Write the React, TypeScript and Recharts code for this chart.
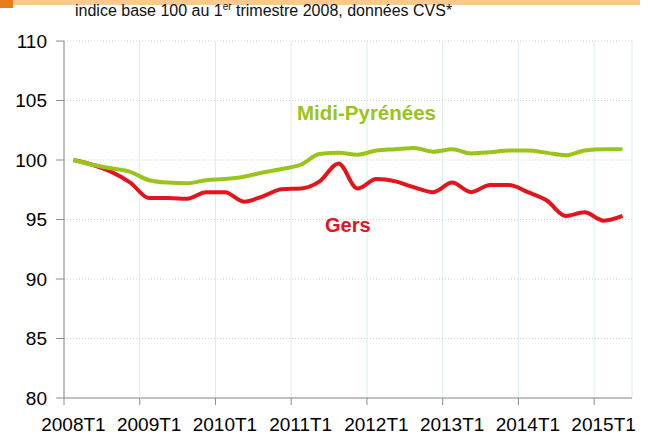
import { CartesianGrid, Line, LineChart, XAxis, YAxis } from 'recharts';

// quarterly values, 2008T1 .. 2015T2
const MIDI_PYRENEES = [
  100.0, 99.6, 99.3, 99.0, 98.3, 98.1, 98.05, 98.3, 98.4, 98.6,
  98.95, 99.25, 99.6, 100.5, 100.6, 100.45, 100.8, 100.9, 101.0, 100.7,
  100.9, 100.55, 100.65, 100.8, 100.8, 100.6, 100.4, 100.8, 100.9, 100.9,
];
const GERS = [
  100.0, 99.6, 99.0, 98.1, 96.8, 96.8, 96.75, 97.3, 97.3, 96.5,
  96.95, 97.55, 97.6, 98.2, 99.7, 97.6, 98.4, 98.2, 97.7, 97.3,
  98.1, 97.3, 97.9, 97.9, 97.3, 96.6, 95.3, 95.6, 94.9, 95.3,
];
const YEAR_LABELS = ['2008T1', '2009T1', '2010T1', '2011T1', '2012T1', '2013T1', '2014T1', '2015T1'];
const Y_TICKS = [80, 85, 90, 95, 100, 105, 110];

const WIDTH = 653;
const HEIGHT = 436;
const MARGIN = { top: 41, right: 21, left: 0, bottom: 0 };
const Y_AXIS_W = 64;
const N = MIDI_PYRENEES.length;
const STEP = (WIDTH - MARGIN.left - MARGIN.right - Y_AXIS_W) / N;

const GREEN = '#99c41a';
const RED = '#e3141b';
const FONT = '"Liberation Sans", Arial, sans-serif';

const data = MIDI_PYRENEES.map((v, i) => ({ i, midi: v, gers: GERS[i] }));
// year boundaries on the quarter index axis
const X_TICKS = YEAR_LABELS.map((_, k) => k * 4 - 0.5);

function YearTick(props: any) {
  const { x, y, payload } = props;
  const k = Math.round((payload.value + 0.5) / 4);
  return (
    <text x={x + STEP / 2} y={y} dy="0.71em" textAnchor="middle" fontSize={19} fill="#000" fontFamily={FONT}>
      {YEAR_LABELS[k]}
    </text>
  );
}

export default function App() {
  return (
    <div style={{ position: 'absolute', left: 0, top: 0, width: WIDTH, height: HEIGHT, background: '#fff', fontFamily: FONT }}>
      {/* cropped banner from the original page */}
      <div style={{ position: 'absolute', left: 0, top: 0, width: 640, height: 5, background: '#f9c98f' }} />
      <div style={{ position: 'absolute', left: 0, top: 0, width: 13, height: 8, background: '#ea7c1c' }} />
      <div style={{ position: 'absolute', left: 75, top: 3, fontSize: 16, lineHeight: '16px', color: '#111', whiteSpace: 'nowrap' }}>
        indice base 100 au 1<sup style={{ fontSize: 10, lineHeight: 0 }}>er</sup> trimestre 2008, données CVS*
      </div>

      <LineChart width={WIDTH} height={HEIGHT} data={data} margin={MARGIN}>
        <CartesianGrid horizontal={false} vertical stroke="#dcecf1" strokeWidth={1} />
        <CartesianGrid horizontal vertical={false} stroke="#cfcfcf" strokeDasharray="1 2" />
        <XAxis
          dataKey="i"
          type="number"
          domain={[-0.5, N - 0.5]}
          ticks={X_TICKS}
          interval={0}
          height={38}
          stroke="#8c8c8c"
          tickSize={7}
          tickMargin={13}
          tick={<YearTick />}
        />
        <YAxis
          domain={[80, 110]}
          ticks={Y_TICKS}
          interval={0}
          width={Y_AXIS_W}
          stroke="#8c8c8c"
          tickSize={8}
          tickMargin={9}
          tick={{ fill: '#000', fontSize: 19, fontFamily: FONT }}
        />
        <Line type="monotone" dataKey="gers" stroke={RED} strokeWidth={4} dot={false} isAnimationActive={false} />
        <Line type="monotone" dataKey="midi" stroke={GREEN} strokeWidth={4} dot={false} isAnimationActive={false} />
      </LineChart>

      <div style={{ position: 'absolute', left: 297, top: 103, fontSize: 20.5, lineHeight: '20px', fontWeight: 'bold', color: GREEN }}>
        Midi-Pyrénées
      </div>
      <div style={{ position: 'absolute', left: 325, top: 215, fontSize: 20, lineHeight: '20px', fontWeight: 'bold', color: RED }}>
        Gers
      </div>
    </div>
  );
}
